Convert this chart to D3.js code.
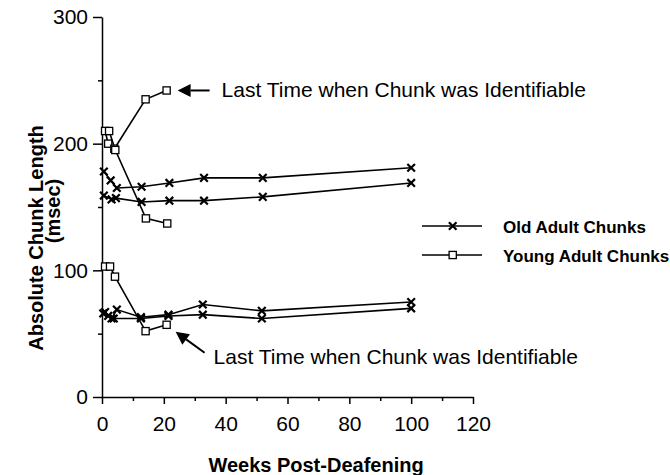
<!DOCTYPE html>
<html>
<head>
<meta charset="utf-8">
<script src="https://cdn.jsdelivr.net/npm/d3@7"></script>
<style>
  body { margin: 0; background: #fff; }
  text { font-family: "Liberation Sans", Arial, sans-serif; fill: #000; }
</style>
</head>
<body>
<svg id="chart" width="670" height="475"></svg>
<script>
// weeks post-deafening vs chunk length (msec)
const xTicks = [0, 20, 40, 60, 80, 100, 120]
const xMinor = [10, 30, 50, 70, 90, 110]
const yTicks = [0, 100, 200, 300]
const yMinor = [50, 150, 250]

const oldA = [[0.6, 178], [2.8, 171], [4.8, 165], [12.8, 166], [21.8, 169], [33, 173], [52, 173], [100, 181]]
const oldB = [[0.6, 159], [3.1, 156], [4.5, 157], [12.8, 154], [21.8, 155], [33, 155], [52, 158], [100, 169]]
const oldC = [[1, 67], [3.1, 62], [4.8, 69], [12.6, 63], [21.5, 65], [32.6, 73], [51.7, 68], [100, 75]]
const oldD = [[0.4, 66], [2, 64], [3.8, 62], [12.6, 62], [21.5, 64], [32.6, 65], [51.7, 62], [100, 70]]

const youngA = [[1, 210], [2, 200], [4, 196], [14.1, 235], [20.9, 242]]
const youngB = [[2.3, 210], [4.3, 195], [14.2, 141], [21.1, 137]]
const youngC = [[1, 103], [2.6, 103], [4.2, 95], [14.1, 52], [20.9, 57]]

const legendLabels = ["Old Adult Chunks", "Young Adult Chunks"]
const noteText = "Last Time when Chunk was Identifiable"

const svg = d3.select("#chart")

const x = d3.scaleLinear().domain([0, 120]).range([102, 473])
const y = d3.scaleLinear().domain([0, 300]).range([397, 17])

// axes
const gy = svg.append("g").attr("transform", `translate(${x(0)},0)`)
  .call(d3.axisLeft(y).tickValues(yTicks).tickSize(9).tickSizeOuter(0).tickPadding(5))
gy.append("g").call(d3.axisLeft(y).tickValues(yMinor).tickSize(4).tickFormat(""))
  .select(".domain").remove()

const gx = svg.append("g").attr("transform", `translate(0,${y(0)})`)
  .call(d3.axisBottom(x).tickValues(xTicks).tickSize(7).tickSizeOuter(0).tickPadding(12))
gx.append("g").call(d3.axisBottom(x).tickValues(xMinor).tickSize(4).tickFormat(""))
  .select(".domain").remove()

svg.selectAll(".domain, .tick line").attr("stroke", "#000").attr("stroke-width", 1.5)
svg.selectAll(".tick text").style("font-size", "21px").style("font-family", '"Liberation Sans", Arial, sans-serif')

// axis titles
svg.append("text")
  .attr("transform", "translate(43,238) rotate(-90)")
  .attr("text-anchor", "middle")
  .style("font-size", "20px").style("font-weight", "bold")
  .text("Absolute Chunk Length")
svg.append("text")
  .attr("transform", "translate(60,211) rotate(-90)")
  .attr("text-anchor", "middle")
  .style("font-size", "20px").style("font-weight", "bold")
  .text("(msec)")
svg.append("text")
  .attr("x", 316).attr("y", 472)
  .attr("text-anchor", "middle")
  .style("font-size", "20px").style("font-weight", "bold")
  .text("Weeks Post-Deafening")

// markers
function cross(sel, cx, cy) {
  const s = 3.8
  sel.append("path")
    .attr("d", `M${cx - s},${cy - s}L${cx + s},${cy + s}M${cx - s},${cy + s}L${cx + s},${cy - s}`)
    .attr("stroke", "#000").attr("stroke-width", 2.2).attr("fill", "none")
}
function box(sel, cx, cy) {
  sel.append("rect")
    .attr("x", cx - 3.6).attr("y", cy - 3.6).attr("width", 7.2).attr("height", 7.2)
    .attr("fill", "#fff").attr("stroke", "#000").attr("stroke-width", 1.3)
}

const line = d3.line().x(d => x(d[0])).y(d => y(d[1]))
const plot = svg.append("g")

const oldSeries = [oldA, oldB, oldC, oldD]
const youngSeries = [youngA, youngB, youngC]

plot.selectAll("path.series")
  .data(oldSeries.concat(youngSeries))
  .join("path")
  .attr("class", "series")
  .attr("d", line)
  .attr("fill", "none").attr("stroke", "#000").attr("stroke-width", 1.6)

oldSeries.forEach(s => s.forEach(d => cross(plot, x(d[0]), y(d[1]))))
youngSeries.forEach(s => s.forEach(d => box(plot, x(d[0]), y(d[1]))))

// legend
const legY = [226, 255]
const leg = svg.append("g")
legendLabels.forEach((t, i) => {
  leg.append("line")
    .attr("x1", 422).attr("x2", 482).attr("y1", legY[i]).attr("y2", legY[i])
    .attr("stroke", "#000").attr("stroke-width", 1.4)
  if (i === 0) cross(leg, 452.7, legY[i]); else box(leg, 452.7, legY[i])
  leg.append("text")
    .attr("x", 503).attr("y", legY[i] + 7)
    .style("font-size", "17px").style("font-weight", "bold")
    .text(t)
})

// annotations
function arrow(x1, y1, x2, y2) {
  const a = Math.atan2(y2 - y1, x2 - x1), L = 13, W = 6.5
  const bx = x2 - L * Math.cos(a), by = y2 - L * Math.sin(a)
  svg.append("line").attr("x1", x1).attr("y1", y1).attr("x2", bx).attr("y2", by)
    .attr("stroke", "#000").attr("stroke-width", 2)
  svg.append("path")
    .attr("d", `M${x2},${y2}L${bx + W * Math.sin(a)},${by - W * Math.cos(a)}L${bx - W * Math.sin(a)},${by + W * Math.cos(a)}Z`)
    .attr("fill", "#000")
}

const topPt = youngA[youngA.length - 1]
const tx = x(topPt[0]), ty = y(topPt[1])
arrow(tx + 43, ty, tx + 11, ty)
svg.append("text").attr("x", tx + 55).attr("y", ty + 7)
  .style("font-size", "21px").text(noteText)

const lowPt = youngC[youngC.length - 1]
const lx = x(lowPt[0]), ly = y(lowPt[1])
arrow(lx + 38, ly + 28, lx + 9, ly + 7)
svg.append("text").attr("x", lx + 47).attr("y", ly + 39)
  .style("font-size", "21px").text(noteText)
</script>
</body>
</html>
